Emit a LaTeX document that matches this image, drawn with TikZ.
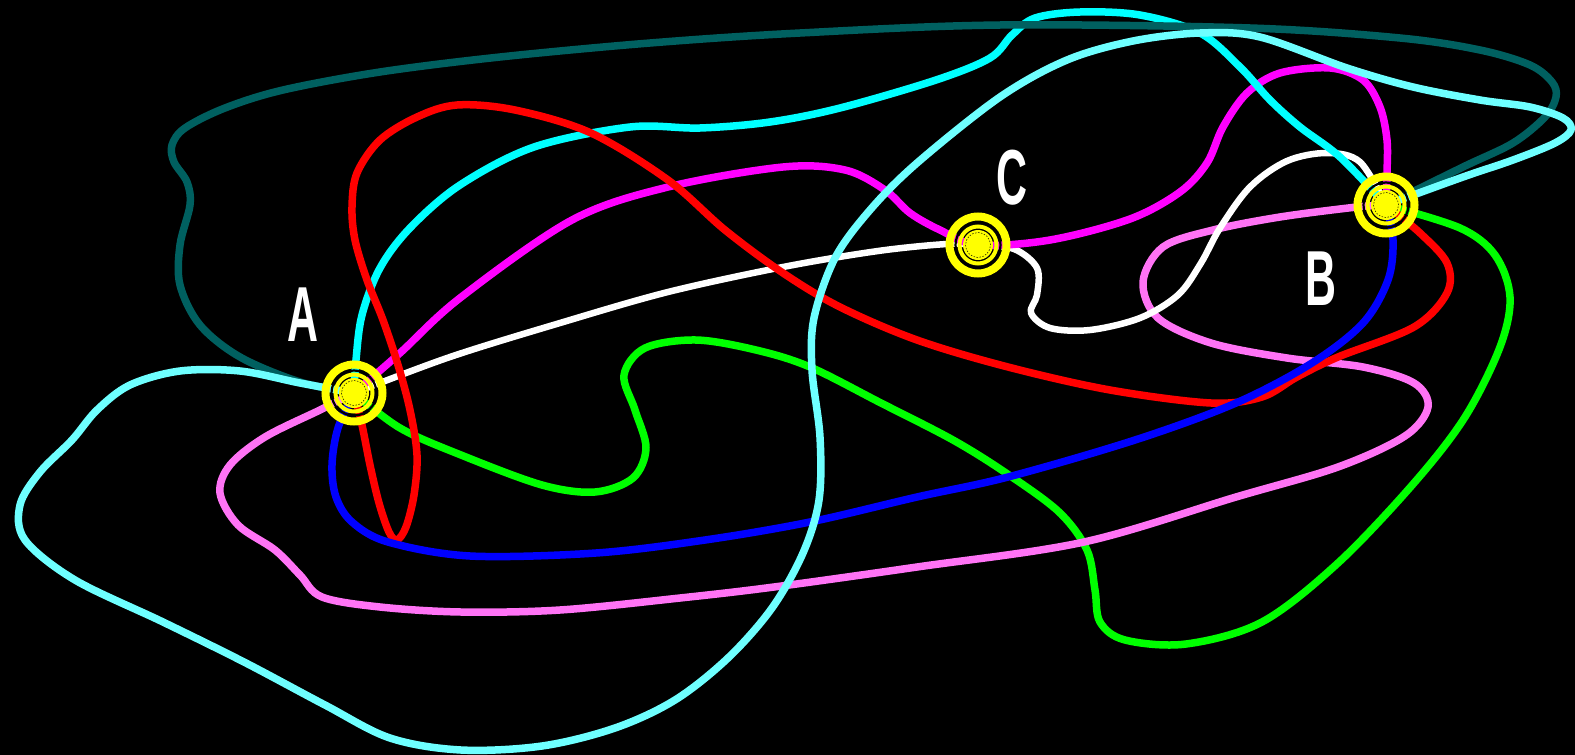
\documentclass[tikz,border=0pt]{standalone}
\usepackage{fontspec}
\setmainfont{Liberation Sans}
\usetikzlibrary{backgrounds}
\definecolor{tealdk}{RGB}{0,96,96}
\definecolor{lcyan}{RGB}{110,255,255}
\definecolor{pinkv}{RGB}{255,115,245}
\definecolor{cyanp}{RGB}{0,255,255}
\definecolor{magp}{RGB}{255,0,255}
\definecolor{greenp}{RGB}{0,255,0}
\definecolor{redp}{RGB}{255,0,0}
\definecolor{bluep}{RGB}{0,0,255}
\definecolor{yellowp}{RGB}{255,255,0}
\begin{document}
\begin{tikzpicture}[x=1pt, y=-1pt,
  curve/.style={line width=7.5pt, line cap=round, line join=round},
  hub/.style={circle, draw=yellowp, line width=8pt, minimum size=57pt, inner sep=0pt, outer sep=0pt,
    path picture={
      \draw[black, line width=2.2pt] (path picture bounding box.center) circle (22.5pt);
      \draw[yellowp, line width=4pt] (path picture bounding box.center) circle (18.5pt);
      \fill[yellowp] (path picture bounding box.center) circle (15pt);
      \draw[black, line width=0.5pt, dash pattern=on 1.5pt off 1.5pt] (path picture bounding box.center) circle (12.5pt);
    }},
  lbl/.style={text=white, inner sep=0pt, font=\fontsize{78}{78}\selectfont\bfseries}
]
\useasboundingbox (0,0) rectangle (1575,755);

% hubs
\node[hub] (A) at (354,393) {};
\node[hub] (C) at (978,245) {};
\node[hub] (B) at (1386,205) {};

% labels
\node[lbl] (labA) at (303,315) {\scalebox{0.55}[1]{A}};
\node[lbl] (labC) at (1012,178) {\scalebox{0.55}[1]{C}};
\node[lbl] (labB) at (1321,279) {\scalebox{0.55}[1]{B}};

\begin{pgfonlayer}{background}
\fill[black] (0,0) rectangle (1575,755);

% green
\draw[curve, greenp] plot[smooth, tension=0.55] coordinates {(A.center) (400,428) (461,455) (542,485) (595,492) (633,478) (646,448) (635,410) (624,375) (645,348) (696,340) (756,350) (810,367) (881,403) (953,440) (1006,473) (1059,512) (1087,550) (1095,590) (1100,622) (1125,640) (1186,644) (1262,622) (1338,563) (1414,483) (1465,417) (1500,347) (1510,297) (1495,255) (1460,228) (B.center)};

% pink
\draw[curve, pinkv] plot[smooth, tension=0.55] coordinates {(A.center) (320,410) (265,437) (230,465) (220,493) (238,525) (275,550) (300,575) (322,597) (380,607) (461,612) (560,610) (680,598) (774,587) (917,567) (1084,542) (1236,497) (1338,467) (1405,436) (1428,407) (1414,383) (1363,367) (1287,358) (1211,343) (1158,318) (1143,282) (1163,247) (1213,230) (1280,217) (1357,207) (B.center)};

% white
\draw[curve, white, line width=6.5pt] plot[smooth, tension=0.55] coordinates {(A.center) (450,357) (560,323) (668,292) (783,267) (878,251) (947,244) (C.center) (1014,249) (1037,268) (1037,295) (1031,313) (1050,328) (1090,330) (1140,318) (1178,295) (1201,263) (1220,228) (1250,187) (1287,161) (1327,153) (1360,162) (B.center)};

% magenta
\draw[curve, magp] plot[smooth, tension=0.55] coordinates {(A.center) (400,353) (460,298) (572,220) (668,187) (783,167) (845,170) (885,190) (910,213) (940,230) (C.center) (1050,240) (1130,219) (1180,192) (1207,163) (1223,127) (1247,93) (1280,73) (1330,68) (1363,80) (1380,107) (1387,140) (1387,173) (B.center)};

% cyan
\draw[curve, cyanp] plot[smooth, tension=0.55] coordinates {(A.center) (356,360) (362,315) (380,268) (410,228) (460,185) (534,147) (630,127) (700,128) (770,122) (840,108) (936,80) (990,58) (1012,35) (1035,18) (1080,12) (1140,15) (1200,33) (1240,67) (1270,100) (1300,127) (1340,157) (B.center)};

% dark teal
\draw[curve, tealdk] plot[smooth, tension=0.55] coordinates {(A.center) (300,382) (240,357) (200,325) (180,285) (180,245) (190,205) (187,182) (174,162) (172,145) (185,128) (225,108) (283,90) (380,72) (500,57) (650,43) (800,33) (1000,25) (1250,28) (1400,38) (1480,50) (1530,65) (1552,82) (1556,97) (1545,117) (1513,143) (1463,167) (B.center)};

% red
\draw[curve, redp] plot[smooth, tension=0.55] coordinates {(A.center) (362,425) (370,465) (379,503) (389,532) (397,540) (406,527) (414,495) (417,455) (410,410) (398,365) (383,320) (367,280) (355,240) (352,207) (357,173) (380,140) (417,117) (457,105) (515,110) (591,133) (668,180) (725,230) (783,273) (840,307) (917,340) (1008,367) (1110,390) (1211,403) (1262,397) (1297,377) (1338,357) (1414,327) (1447,293) (1447,263) (1420,233) (B.center)};

% blue
\draw[curve, bluep] plot[smooth, tension=0.55] coordinates {(A.center) (338,428) (332,465) (336,497) (352,522) (388,542) (470,556) (596,553) (705,540) (810,522) (917,497) (1008,477) (1135,440) (1236,403) (1312,363) (1363,323) (1388,280) (1393,240) (B.center)};

% light cyan
\draw[curve, lcyan] plot[smooth, tension=0.55] coordinates {(A.center) (300,383) (240,371) (180,371) (130,385) (97,410) (72,440) (40,472) (20,505) (25,540) (75,580) (163,622) (244,662) (325,705) (390,738) (461,750) (542,746) (615,728) (675,700) (728,658) (772,608) (803,553) (819,500) (820,437) (812,370) (814,318) (835,258) (870,210) (917,163) (1000,97) (1067,60) (1133,41) (1200,33) (1260,37) (1347,68) (1413,87) (1480,100) (1530,107) (1563,118) (1571,130) (1555,143) (1513,160) (1463,177) (B.center)};
\end{pgfonlayer}
\end{tikzpicture}
\end{document}
